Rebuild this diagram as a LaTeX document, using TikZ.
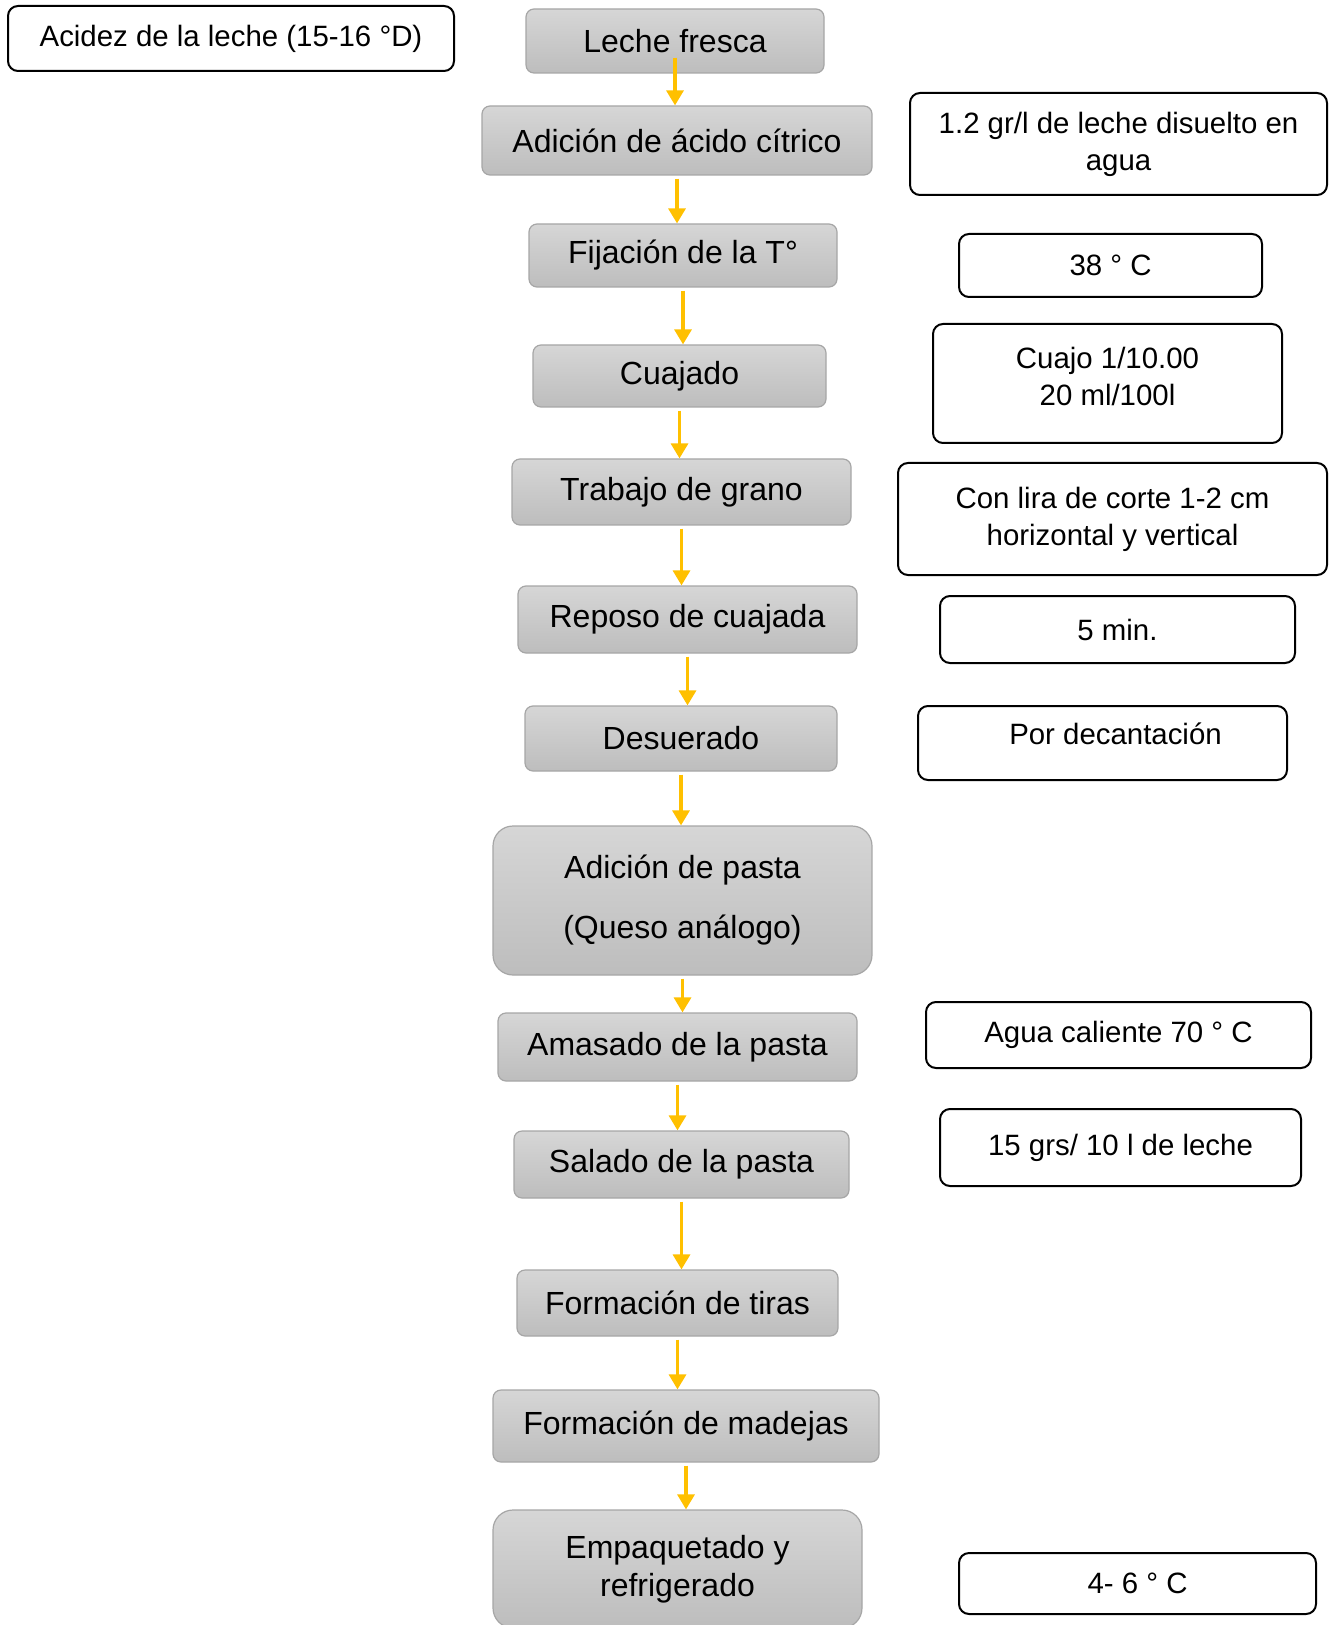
\documentclass[tikz,border=0pt]{standalone}
\usepackage{fontspec}
\setmainfont{Liberation Sans}
\usepackage{tikz}
\usetikzlibrary{arrows.meta}

\definecolor{boxtop}{HTML}{D6D6D6}
\definecolor{boxbot}{HTML}{BDBDBD}
\definecolor{boxline}{HTML}{A6A6A6}
\definecolor{arrowyellow}{HTML}{FFC000}

\tikzset{
    procbox/.style={draw=boxline, line width=0.6pt, rounded corners=4pt,
        top color=boxtop, bottom color=boxbot, align=center, inner sep=0pt,
        font=\fontsize{16}{19}\selectfont},
    notebox/.style={draw=black, line width=1pt, rounded corners=5pt,
        align=center, inner sep=0pt, font=\fontsize{14.7}{18.5}\selectfont},
    flow/.style={arrowyellow, line width=1.6pt, shorten <=1.5pt,
        -{Triangle[width=8.5pt,length=7.5pt]}}
}

\begin{document}
\begin{tikzpicture}[x=0.5pt, y=-0.5pt]
    \clip (0,0) rectangle (1328,1625);

    % Process steps
    \node[procbox, minimum width=149pt, minimum height=32pt] (lf) at (675,41) {Leche fresca};
    \node[procbox, minimum width=195pt, minimum height=34.5pt] (aac) at (677,140.5) {Adición de ácido cítrico};
    \node[procbox, minimum width=154pt, minimum height=31.5pt] (fij) at (683,255.5) {Fijación de la T°};
    \node[procbox, minimum width=146.5pt, minimum height=31pt] (cua) at (679.5,376) {Cuajado};
    \node[procbox, minimum width=169.5pt, minimum height=33pt] (tra) at (681.5,492) {Trabajo de grano};
    \node[procbox, minimum width=169.5pt, minimum height=33.5pt] (rep) at (687.5,619.5) {Reposo de cuajada};
    \node[procbox, minimum width=156pt, minimum height=32.5pt] (des) at (681,738.5) {Desuerado};
    \node[procbox, rounded corners=10pt, minimum width=189.5pt, minimum height=74.5pt] (adp) at (682.5,900.5)
        {Adición de pasta\\[11pt](Queso análogo)};
    \node[procbox, minimum width=179.5pt, minimum height=34pt] (ama) at (677.5,1047) {Amasado de la pasta};
    \node[procbox, minimum width=167.5pt, minimum height=33.5pt] (sal) at (681.5,1164.5) {Salado de la pasta};
    \node[procbox, minimum width=160.5pt, minimum height=33pt] (tir) at (677.5,1303) {Formación de tiras};
    \node[procbox, minimum width=193pt, minimum height=36pt] (mad) at (686,1426) {Formación de madejas};
    \node[procbox, rounded corners=10pt, minimum width=184.5pt, minimum height=59pt] (emp) at (677.5,1569)
        {Empaquetado y\\refrigerado};

    % Flow arrows
    \draw[flow, shorten <=0pt] ([yshift=8pt]lf.south) -- (lf.south |- aac.north);
    \draw[flow] (aac.south) -- (aac.south |- fij.north);
    \draw[flow] (fij.south) -- (fij.south |- cua.north);
    \draw[flow] (cua.south) -- (cua.south |- tra.north);
    \draw[flow] (tra.south) -- (tra.south |- rep.north);
    \draw[flow] (rep.south) -- (rep.south |- des.north);
    \draw[flow] (des.south) -- (des.south |- adp.north);
    \draw[flow] (adp.south) -- (adp.south |- ama.north);
    \draw[flow] (ama.south) -- (ama.south |- sal.north);
    \draw[flow] (sal.south) -- (sal.south |- tir.north);
    \draw[flow] (tir.south) -- (tir.south |- mad.north);
    \draw[flow] (mad.south) -- (mad.south |- emp.north);

    % Conditions
    \node[notebox, minimum width=223pt, minimum height=32.5pt] (aci) at (231,38.5) {Acidez de la leche (15-16 °D)};
    \node[notebox, minimum width=208.5pt, minimum height=51pt] (dos) at (1118.5,144) {1.2 gr/l de leche disuelto en\\agua};
    \node[notebox, minimum width=151.5pt, minimum height=31.5pt] (tem) at (1110.5,265.5) {38 ° C};
    \node[notebox, minimum width=174.5pt, minimum height=59.5pt, text depth=7.5pt] (cuj) at (1107.5,383.5) {Cuajo 1/10.00\\20 ml/100l};
    \node[notebox, minimum width=214.5pt, minimum height=56pt] (lir) at (1112.5,519) {Con lira de corte 1-2 cm\\horizontal y vertical};
    \node[notebox, minimum width=177.5pt, minimum height=33.5pt] (min) at (1117.5,629.5) {5 min.};
    \node[notebox, minimum width=184.5pt, minimum height=37pt, text depth=9pt] (dec) at (1102.5,743) {\hspace*{13pt}Por decantación};
    \node[notebox, minimum width=192.5pt, minimum height=33pt] (agu) at (1118.5,1035) {Agua caliente 70 ° C};
    \node[notebox, minimum width=180.5pt, minimum height=38.5pt] (sgr) at (1120.5,1147.5) {15 grs/ 10 l de leche};
    \node[notebox, minimum width=178.5pt, minimum height=30.5pt] (ref) at (1137.5,1583.5) {4- 6 ° C};
\end{tikzpicture}
\end{document}
